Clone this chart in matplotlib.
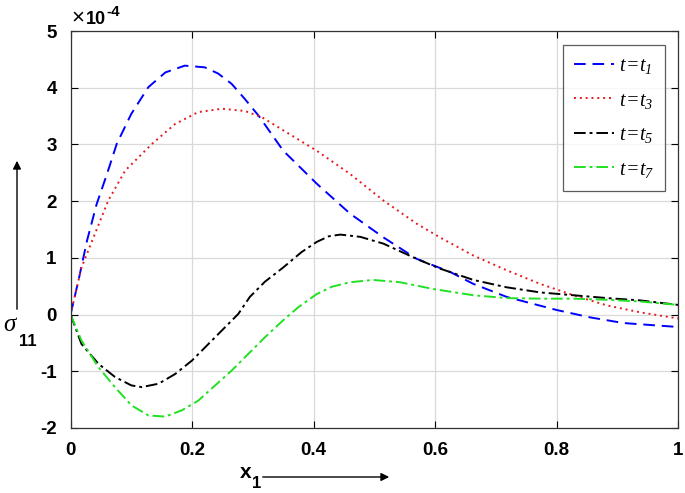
import matplotlib
matplotlib.use("Agg")
import matplotlib.pyplot as plt
import numpy as np

plt.rcParams['font.family'] = ['Liberation Sans', 'DejaVu Sans']
plt.rcParams['axes.unicode_minus'] = False
plt.rcParams['mathtext.fontset'] = 'custom'
plt.rcParams['mathtext.it'] = 'Liberation Serif:italic'
plt.rcParams['mathtext.rm'] = 'Liberation Serif:italic'
plt.rcParams['mathtext.bf'] = 'Liberation Sans:bold'

# values in units of 1e-4
x_t1 = [0, 0.013, 0.027, 0.043, 0.06, 0.076, 0.1, 0.128, 0.156, 0.188, 0.221, 0.243, 0.265, 0.287, 0.31,
        0.35, 0.405, 0.46, 0.515, 0.57, 0.625, 0.663, 0.718, 0.8, 0.855, 0.91, 1.0]
y_t1 = [0, 0.6, 1.3, 1.95, 2.48, 3.01, 3.54, 4.01, 4.27, 4.39, 4.36, 4.25, 4.07, 3.8, 3.5,
        2.89, 2.31, 1.78, 1.36, 0.98, 0.75, 0.54, 0.31, 0.08, -0.05, -0.15, -0.22]

x_t3 = [0, 0.018, 0.04, 0.062, 0.09, 0.134, 0.172, 0.21, 0.249, 0.287, 0.315,
        0.35, 0.405, 0.46, 0.515, 0.57, 0.608, 0.663, 0.718, 0.773, 0.828, 0.883, 0.937, 1.0]
y_t3 = [0, 0.83, 1.42, 2.01, 2.54, 3.01, 3.36, 3.57, 3.63, 3.59, 3.48,
        3.25, 2.89, 2.48, 2.01, 1.6, 1.36, 1.04, 0.78, 0.54, 0.34, 0.16, 0.04, -0.07]

x_t5 = [0, 0.018, 0.046, 0.073, 0.1, 0.117, 0.145, 0.172, 0.2, 0.238, 0.276, 0.295, 0.32,
        0.35, 0.38, 0.405, 0.425, 0.444, 0.477, 0.515, 0.57, 0.608, 0.663, 0.718, 0.773, 0.828, 0.883, 0.937, 1.0]
y_t5 = [0, -0.52, -0.87, -1.1, -1.25, -1.28, -1.22, -1.05, -0.81, -0.4, 0.01, 0.31, 0.58,
        0.83, 1.1, 1.28, 1.38, 1.41, 1.37, 1.25, 0.98, 0.81, 0.61, 0.48, 0.39, 0.34, 0.29, 0.25, 0.17]

x_t7 = [0, 0.018, 0.046, 0.073, 0.1, 0.128, 0.156, 0.183, 0.21, 0.265, 0.32, 0.35, 0.375,
        0.405, 0.43, 0.46, 0.498, 0.542, 0.597, 0.663, 0.718, 0.773, 0.828, 0.883, 0.937, 1.0]
y_t7 = [0, -0.46, -0.93, -1.28, -1.6, -1.78, -1.8, -1.69, -1.52, -0.99, -0.4, -0.1, 0.13,
        0.36, 0.49, 0.57, 0.61, 0.57, 0.45, 0.34, 0.29, 0.28, 0.28, 0.26, 0.23, 0.17]

labels = [r'$t\!=\!t_{1}$', r'$t\!=\!t_{3}$', r'$t\!=\!t_{5}$', r'$t\!=\!t_{7}$']
xticks = [0, 0.2, 0.4, 0.6, 0.8, 1]
xticklabels = ['0', '0.2', '0.4', '0.6', '0.8', '1']
yticks = [-2, -1, 0, 1, 2, 3, 4, 5]

W, H = 685, 493
fig = plt.figure(figsize=(6.85, 4.93), dpi=100)
ax = fig.add_axes([0.103, 0.132, 0.887, 0.805])

ax.plot(x_t1, y_t1, color='#0000ff', ls=(0, (6, 3.5)), lw=1.4, label=labels[0])
ax.plot(x_t3, y_t3, color='#e8191e', ls=(0, (1, 2)), lw=1.4, label=labels[1])
ax.plot(x_t5, y_t5, color='black', ls=(0, (6, 2, 1.5, 2)), lw=1.4, label=labels[2])
ax.plot(x_t7, y_t7, color='#22e022', ls=(0, (6, 2, 1.5, 2)), lw=1.4, label=labels[3])

ax.set_xlim(0, 1)
ax.set_ylim(-2, 5)
ax.set_xticks(xticks)
ax.set_xticklabels(xticklabels)
ax.set_yticks(yticks)
ax.grid(True, color='#d9d9d9', lw=0.9)
ax.tick_params(direction='in', top=True, right=True, length=5, width=0.8,
               labelsize=13.5, pad=10)
for lab in ax.get_xticklabels() + ax.get_yticklabels():
    lab.set_fontweight('bold')
for sp in ax.spines.values():
    sp.set_color('#333333')
    sp.set_linewidth(0.9)

# exponent label
fig.text(71/W, 1 - 23/H, '\u00d7', fontsize=16, ha='left', va='baseline')
fig.text(86/W, 1 - 24/H, '10', fontsize=13, fontweight='bold', ha='left', va='baseline')
fig.text(106/W, 1 - 16/H, '-4', fontsize=11, fontweight='bold', ha='left', va='baseline')

leg = ax.legend(loc='upper right', bbox_to_anchor=(0.979, 0.965), fontsize=14.5,
                frameon=True, fancybox=False, edgecolor='#333333', handlelength=2.0,
                labelspacing=0.72, borderpad=0.55, handletextpad=0.25, borderaxespad=0)
leg.get_frame().set_linewidth(0.9)

# x label with arrow
fig.text(240/W, 1 - 473/H, 'x', fontsize=15, fontweight='bold', ha='left', va='center')
fig.text(252/W, 1 - 483/H, '1', fontsize=12, fontweight='bold', ha='left', va='center')
ax.annotate('', xy=(392/W, 1 - 477/H), xytext=(260/W, 1 - 477/H),
            xycoords='figure fraction', textcoords='figure fraction',
            arrowprops=dict(arrowstyle='-|>', color='black', lw=1.0, mutation_scale=12))

# y label with arrow
fig.text(3/W, 1 - 324/H, r'$\sigma$', fontsize=18, ha='left', va='center')
fig.text(19/W, 1 - 341/H, '11', fontsize=12, fontweight='bold', ha='left', va='center')
ax.annotate('', xy=(17/W, 1 - 158/H), xytext=(17/W, 1 - 312/H),
            xycoords='figure fraction', textcoords='figure fraction',
            arrowprops=dict(arrowstyle='-|>', color='black', lw=1.0, mutation_scale=12))

fig.savefig('out.png', dpi=100)
